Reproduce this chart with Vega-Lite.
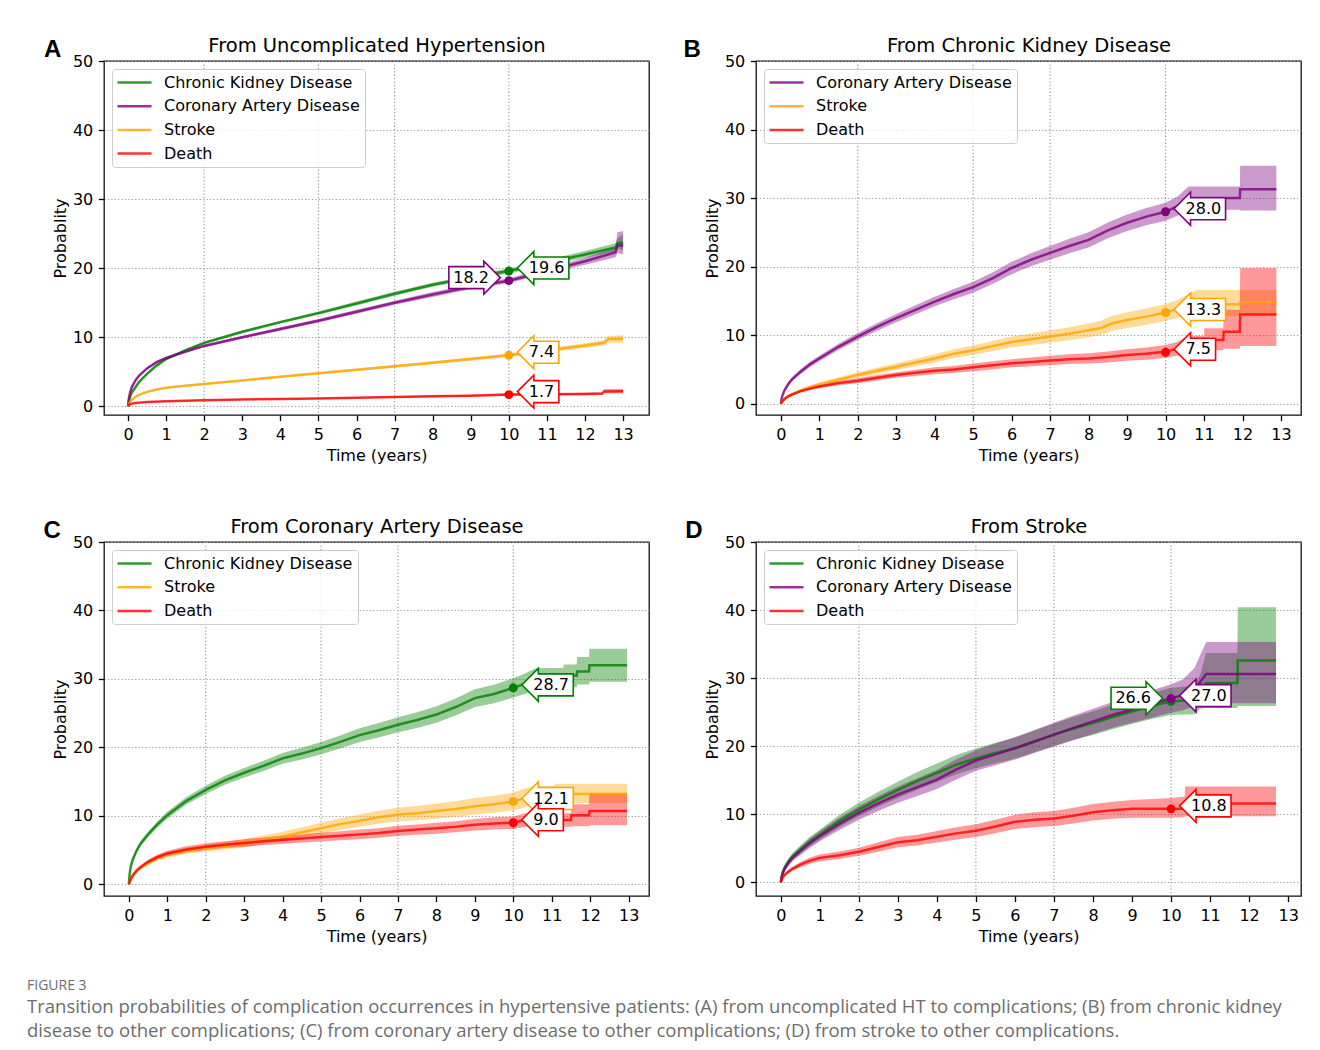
{
"$schema": "https://vega.github.io/schema/vega-lite/v6.json",
"background": "white",
"padding": {"left": 27, "top": 34, "right": 10, "bottom": 8},
"columns": 2,
"spacing": {"row": 127, "column": 107},
"bounds": "flush",
"resolve": {"scale": {"color": "independent", "fill": "independent", "stroke": "independent"}, "legend": {"color": "independent", "fill": "independent", "stroke": "independent"}},
"title": {"text": "FIGURE 3", "subtitle": ["Transition probabilities of complication occurrences in hypertensive patients: (A) from uncomplicated HT to complications; (B) from chronic kidney", "disease to other complications; (C) from coronary artery disease to other complications; (D) from stroke to other complications."], "orient": "bottom", "anchor": "start", "frame": "group", "dx": -77, "offset": 34, "font": "Open Sans", "fontSize": 14, "fontWeight": "normal", "color": "#6d6d6d", "subtitleFont": "Open Sans", "subtitleFontSize": 18.5, "subtitleColor": "#6d6d6d", "subtitleLineHeight": 24, "subtitlePadding": 5},
"config": {
  "font": "DejaVu Sans",
  "view": {"stroke": "#111111", "strokeWidth": 1.3},
  "axis": {"labelFont": "DejaVu Sans", "labelFontSize": 16, "labelColor": "#000000", "titleFont": "DejaVu Sans", "titleFontSize": 16, "titleFontWeight": "normal", "titleColor": "#000000", "tickColor": "#000000", "tickWidth": 1.3, "tickSize": 5.6, "labelPadding": 5.6, "domain": false, "gridColor": "#a0a0a0", "gridDash": [1.3, 2.1], "gridWidth": 1.2, "gridOpacity": 1}
},
"datasets": {
"A": [
{"s":"Chronic Kidney Disease","t":0,"v":0,"lo":0,"hi":0},
{"s":"Chronic Kidney Disease","t":0.02,"v":0.6,"lo":0.5,"hi":0.7},
{"s":"Chronic Kidney Disease","t":0.05,"v":1.3,"lo":1.2,"hi":1.4},
{"s":"Chronic Kidney Disease","t":0.1,"v":2.0,"lo":1.85,"hi":2.15},
{"s":"Chronic Kidney Disease","t":0.2,"v":2.8,"lo":2.65,"hi":2.95},
{"s":"Chronic Kidney Disease","t":0.3,"v":3.6,"lo":3.45,"hi":3.75},
{"s":"Chronic Kidney Disease","t":0.5,"v":4.7,"lo":4.55,"hi":4.85},
{"s":"Chronic Kidney Disease","t":0.75,"v":5.9,"lo":5.75,"hi":6.05},
{"s":"Chronic Kidney Disease","t":1,"v":6.85,"lo":6.7,"hi":7.0},
{"s":"Chronic Kidney Disease","t":1.5,"v":8.1,"lo":7.95,"hi":8.25},
{"s":"Chronic Kidney Disease","t":2,"v":9.2,"lo":9.0,"hi":9.4},
{"s":"Chronic Kidney Disease","t":3,"v":10.8,"lo":10.6,"hi":11.0},
{"s":"Chronic Kidney Disease","t":4,"v":12.2,"lo":12.0,"hi":12.4},
{"s":"Chronic Kidney Disease","t":5,"v":13.5,"lo":13.25,"hi":13.75},
{"s":"Chronic Kidney Disease","t":6,"v":14.9,"lo":14.6,"hi":15.2},
{"s":"Chronic Kidney Disease","t":7,"v":16.3,"lo":16.0,"hi":16.6},
{"s":"Chronic Kidney Disease","t":8,"v":17.6,"lo":17.3,"hi":17.9},
{"s":"Chronic Kidney Disease","t":9,"v":18.7,"lo":18.4,"hi":19.0},
{"s":"Chronic Kidney Disease","t":10,"v":19.6,"lo":19.25,"hi":19.95},
{"s":"Chronic Kidney Disease","t":11,"v":20.8,"lo":20.4,"hi":21.2},
{"s":"Chronic Kidney Disease","t":12,"v":22.0,"lo":21.5,"hi":22.5},
{"s":"Chronic Kidney Disease","t":12.8,"v":23.0,"lo":22.4,"hi":23.6},
{"s":"Chronic Kidney Disease","t":12.85,"v":23.6,"lo":22.9,"hi":24.3},
{"s":"Chronic Kidney Disease","t":13.0,"v":23.7,"lo":22.6,"hi":24.9},
{"s":"Coronary Artery Disease","t":0,"v":0,"lo":0,"hi":0},
{"s":"Coronary Artery Disease","t":0.02,"v":1.0,"lo":0.9,"hi":1.1},
{"s":"Coronary Artery Disease","t":0.05,"v":1.9,"lo":1.75,"hi":2.05},
{"s":"Coronary Artery Disease","t":0.1,"v":2.8,"lo":2.65,"hi":2.95},
{"s":"Coronary Artery Disease","t":0.2,"v":3.8,"lo":3.65,"hi":3.95},
{"s":"Coronary Artery Disease","t":0.3,"v":4.5,"lo":4.35,"hi":4.65},
{"s":"Coronary Artery Disease","t":0.5,"v":5.5,"lo":5.35,"hi":5.65},
{"s":"Coronary Artery Disease","t":0.75,"v":6.4,"lo":6.25,"hi":6.55},
{"s":"Coronary Artery Disease","t":1,"v":7.0,"lo":6.85,"hi":7.15},
{"s":"Coronary Artery Disease","t":1.5,"v":7.9,"lo":7.75,"hi":8.05},
{"s":"Coronary Artery Disease","t":2,"v":8.75,"lo":8.55,"hi":8.95},
{"s":"Coronary Artery Disease","t":3,"v":10.0,"lo":9.8,"hi":10.2},
{"s":"Coronary Artery Disease","t":4,"v":11.2,"lo":10.95,"hi":11.45},
{"s":"Coronary Artery Disease","t":5,"v":12.4,"lo":12.15,"hi":12.65},
{"s":"Coronary Artery Disease","t":6,"v":13.7,"lo":13.4,"hi":14.0},
{"s":"Coronary Artery Disease","t":7,"v":15.0,"lo":14.7,"hi":15.3},
{"s":"Coronary Artery Disease","t":8,"v":16.2,"lo":15.85,"hi":16.55},
{"s":"Coronary Artery Disease","t":9,"v":17.3,"lo":16.95,"hi":17.65},
{"s":"Coronary Artery Disease","t":10,"v":18.2,"lo":17.85,"hi":18.55},
{"s":"Coronary Artery Disease","t":11,"v":19.6,"lo":19.2,"hi":20.0},
{"s":"Coronary Artery Disease","t":12,"v":21.0,"lo":20.5,"hi":21.5},
{"s":"Coronary Artery Disease","t":12.8,"v":22.3,"lo":21.6,"hi":23.0},
{"s":"Coronary Artery Disease","t":12.85,"v":23.3,"lo":22.2,"hi":25.2},
{"s":"Coronary Artery Disease","t":13.0,"v":23.3,"lo":22.0,"hi":25.4},
{"s":"Stroke","t":0,"v":0,"lo":0,"hi":0},
{"s":"Stroke","t":0.05,"v":0.6,"lo":0.55,"hi":0.65},
{"s":"Stroke","t":0.1,"v":0.95,"lo":0.88,"hi":1.02},
{"s":"Stroke","t":0.2,"v":1.4,"lo":1.32,"hi":1.48},
{"s":"Stroke","t":0.3,"v":1.7,"lo":1.62,"hi":1.78},
{"s":"Stroke","t":0.5,"v":2.1,"lo":2.0,"hi":2.2},
{"s":"Stroke","t":0.75,"v":2.45,"lo":2.35,"hi":2.55},
{"s":"Stroke","t":1,"v":2.7,"lo":2.6,"hi":2.8},
{"s":"Stroke","t":1.5,"v":3.0,"lo":2.9,"hi":3.1},
{"s":"Stroke","t":2,"v":3.25,"lo":3.13,"hi":3.37},
{"s":"Stroke","t":3,"v":3.75,"lo":3.6,"hi":3.9},
{"s":"Stroke","t":4,"v":4.3,"lo":4.15,"hi":4.45},
{"s":"Stroke","t":5,"v":4.8,"lo":4.63,"hi":4.97},
{"s":"Stroke","t":6,"v":5.3,"lo":5.1,"hi":5.5},
{"s":"Stroke","t":7,"v":5.8,"lo":5.6,"hi":6.0},
{"s":"Stroke","t":8,"v":6.3,"lo":6.08,"hi":6.52},
{"s":"Stroke","t":9,"v":6.85,"lo":6.6,"hi":7.1},
{"s":"Stroke","t":10,"v":7.4,"lo":7.13,"hi":7.67},
{"s":"Stroke","t":11,"v":8.1,"lo":7.8,"hi":8.4},
{"s":"Stroke","t":12,"v":8.8,"lo":8.45,"hi":9.15},
{"s":"Stroke","t":12.5,"v":9.2,"lo":8.8,"hi":9.6},
{"s":"Stroke","t":12.6,"v":9.7,"lo":9.2,"hi":10.2},
{"s":"Stroke","t":13.0,"v":9.8,"lo":9.2,"hi":10.3},
{"s":"Death","t":0,"v":0,"lo":0,"hi":0},
{"s":"Death","t":0.05,"v":0.3,"lo":0.25,"hi":0.35},
{"s":"Death","t":0.1,"v":0.4,"lo":0.35,"hi":0.45},
{"s":"Death","t":0.2,"v":0.5,"lo":0.44,"hi":0.56},
{"s":"Death","t":0.5,"v":0.62,"lo":0.55,"hi":0.69},
{"s":"Death","t":1,"v":0.75,"lo":0.68,"hi":0.82},
{"s":"Death","t":2,"v":0.9,"lo":0.82,"hi":0.98},
{"s":"Death","t":3,"v":1.0,"lo":0.92,"hi":1.08},
{"s":"Death","t":4,"v":1.08,"lo":1.0,"hi":1.16},
{"s":"Death","t":5,"v":1.15,"lo":1.06,"hi":1.24},
{"s":"Death","t":6,"v":1.25,"lo":1.15,"hi":1.35},
{"s":"Death","t":7,"v":1.35,"lo":1.24,"hi":1.46},
{"s":"Death","t":8,"v":1.45,"lo":1.33,"hi":1.57},
{"s":"Death","t":9,"v":1.55,"lo":1.42,"hi":1.68},
{"s":"Death","t":10,"v":1.7,"lo":1.55,"hi":1.85},
{"s":"Death","t":11,"v":1.75,"lo":1.6,"hi":1.9},
{"s":"Death","t":12,"v":1.8,"lo":1.64,"hi":1.96},
{"s":"Death","t":12.45,"v":1.85,"lo":1.68,"hi":2.02},
{"s":"Death","t":12.5,"v":2.15,"lo":1.9,"hi":2.5},
{"s":"Death","t":13.0,"v":2.2,"lo":1.9,"hi":2.55}
],
"B": [
{"s":"Coronary Artery Disease","t":0,"v":0,"lo":0,"hi":0},
{"s":"Coronary Artery Disease","t":0.02,"v":0.7,"lo":0.6,"hi":0.8},
{"s":"Coronary Artery Disease","t":0.05,"v":1.3,"lo":1.15,"hi":1.45},
{"s":"Coronary Artery Disease","t":0.1,"v":2.0,"lo":1.8,"hi":2.2},
{"s":"Coronary Artery Disease","t":0.2,"v":2.9,"lo":2.65,"hi":3.15},
{"s":"Coronary Artery Disease","t":0.3,"v":3.6,"lo":3.3,"hi":3.9},
{"s":"Coronary Artery Disease","t":0.5,"v":4.6,"lo":4.25,"hi":4.95},
{"s":"Coronary Artery Disease","t":0.75,"v":5.7,"lo":5.3,"hi":6.1},
{"s":"Coronary Artery Disease","t":1,"v":6.6,"lo":6.2,"hi":7.0},
{"s":"Coronary Artery Disease","t":1.5,"v":8.3,"lo":7.85,"hi":8.75},
{"s":"Coronary Artery Disease","t":2,"v":9.8,"lo":9.3,"hi":10.3},
{"s":"Coronary Artery Disease","t":2.5,"v":11.2,"lo":10.65,"hi":11.75},
{"s":"Coronary Artery Disease","t":3,"v":12.5,"lo":11.9,"hi":13.1},
{"s":"Coronary Artery Disease","t":3.5,"v":13.7,"lo":13.05,"hi":14.35},
{"s":"Coronary Artery Disease","t":4,"v":14.9,"lo":14.2,"hi":15.6},
{"s":"Coronary Artery Disease","t":4.5,"v":16.0,"lo":15.25,"hi":16.75},
{"s":"Coronary Artery Disease","t":5,"v":17.0,"lo":16.2,"hi":17.8},
{"s":"Coronary Artery Disease","t":5.5,"v":18.3,"lo":17.45,"hi":19.15},
{"s":"Coronary Artery Disease","t":6,"v":19.8,"lo":18.9,"hi":20.7},
{"s":"Coronary Artery Disease","t":6.5,"v":21.0,"lo":20.05,"hi":21.95},
{"s":"Coronary Artery Disease","t":7,"v":22.0,"lo":21.0,"hi":23.0},
{"s":"Coronary Artery Disease","t":7.5,"v":23.0,"lo":21.95,"hi":24.05},
{"s":"Coronary Artery Disease","t":8,"v":23.9,"lo":22.8,"hi":25.0},
{"s":"Coronary Artery Disease","t":8.5,"v":25.3,"lo":24.15,"hi":26.45},
{"s":"Coronary Artery Disease","t":9,"v":26.4,"lo":25.2,"hi":27.6},
{"s":"Coronary Artery Disease","t":9.5,"v":27.3,"lo":26.05,"hi":28.55},
{"s":"Coronary Artery Disease","t":10,"v":28.0,"lo":26.7,"hi":29.3},
{"s":"Coronary Artery Disease","t":10.3,"v":28.8,"lo":27.4,"hi":30.2},
{"s":"Coronary Artery Disease","t":10.6,"v":30.0,"lo":28.3,"hi":31.7},
{"s":"Coronary Artery Disease","t":11.93,"v":30.0,"lo":28.3,"hi":31.7},
{"s":"Coronary Artery Disease","t":11.94,"v":31.3,"lo":28.2,"hi":34.7},
{"s":"Coronary Artery Disease","t":12.88,"v":31.3,"lo":28.2,"hi":34.7},
{"s":"Stroke","t":0,"v":0,"lo":0,"hi":0},
{"s":"Stroke","t":0.05,"v":0.4,"lo":0.33,"hi":0.47},
{"s":"Stroke","t":0.1,"v":0.7,"lo":0.6,"hi":0.8},
{"s":"Stroke","t":0.2,"v":1.1,"lo":0.97,"hi":1.23},
{"s":"Stroke","t":0.3,"v":1.4,"lo":1.25,"hi":1.55},
{"s":"Stroke","t":0.5,"v":1.9,"lo":1.7,"hi":2.1},
{"s":"Stroke","t":0.75,"v":2.4,"lo":2.15,"hi":2.65},
{"s":"Stroke","t":1,"v":2.8,"lo":2.5,"hi":3.1},
{"s":"Stroke","t":1.5,"v":3.5,"lo":3.15,"hi":3.85},
{"s":"Stroke","t":2,"v":4.2,"lo":3.8,"hi":4.6},
{"s":"Stroke","t":2.5,"v":4.8,"lo":4.35,"hi":5.25},
{"s":"Stroke","t":3,"v":5.4,"lo":4.9,"hi":5.9},
{"s":"Stroke","t":3.5,"v":6.0,"lo":5.45,"hi":6.55},
{"s":"Stroke","t":4,"v":6.6,"lo":6.0,"hi":7.2},
{"s":"Stroke","t":4.5,"v":7.3,"lo":6.65,"hi":7.95},
{"s":"Stroke","t":5,"v":7.8,"lo":7.1,"hi":8.5},
{"s":"Stroke","t":5.5,"v":8.4,"lo":7.65,"hi":9.15},
{"s":"Stroke","t":6,"v":9.0,"lo":8.2,"hi":9.8},
{"s":"Stroke","t":6.5,"v":9.4,"lo":8.55,"hi":10.25},
{"s":"Stroke","t":7,"v":9.8,"lo":8.9,"hi":10.7},
{"s":"Stroke","t":7.5,"v":10.2,"lo":9.25,"hi":11.15},
{"s":"Stroke","t":8,"v":10.7,"lo":9.7,"hi":11.7},
{"s":"Stroke","t":8.3,"v":11.0,"lo":9.95,"hi":12.05},
{"s":"Stroke","t":8.6,"v":11.7,"lo":10.6,"hi":12.8},
{"s":"Stroke","t":9,"v":12.2,"lo":11.05,"hi":13.35},
{"s":"Stroke","t":9.5,"v":12.7,"lo":11.5,"hi":13.9},
{"s":"Stroke","t":10,"v":13.3,"lo":12.05,"hi":14.55},
{"s":"Stroke","t":10.3,"v":13.8,"lo":12.5,"hi":15.1},
{"s":"Stroke","t":10.6,"v":14.5,"lo":13.0,"hi":16.0},
{"s":"Stroke","t":10.8,"v":14.5,"lo":12.8,"hi":16.6},
{"s":"Stroke","t":11.93,"v":14.5,"lo":12.8,"hi":16.6},
{"s":"Stroke","t":11.94,"v":14.8,"lo":13.0,"hi":16.6},
{"s":"Stroke","t":12.88,"v":14.8,"lo":13.0,"hi":16.6},
{"s":"Death","t":0,"v":0,"lo":0,"hi":0},
{"s":"Death","t":0.05,"v":0.4,"lo":0.33,"hi":0.47},
{"s":"Death","t":0.1,"v":0.7,"lo":0.6,"hi":0.8},
{"s":"Death","t":0.2,"v":1.1,"lo":0.97,"hi":1.23},
{"s":"Death","t":0.3,"v":1.35,"lo":1.2,"hi":1.5},
{"s":"Death","t":0.5,"v":1.8,"lo":1.6,"hi":2.0},
{"s":"Death","t":0.75,"v":2.2,"lo":1.97,"hi":2.43},
{"s":"Death","t":1,"v":2.5,"lo":2.25,"hi":2.75},
{"s":"Death","t":1.5,"v":3.0,"lo":2.7,"hi":3.3},
{"s":"Death","t":2,"v":3.35,"lo":3.0,"hi":3.7},
{"s":"Death","t":2.5,"v":3.8,"lo":3.4,"hi":4.2},
{"s":"Death","t":3,"v":4.2,"lo":3.8,"hi":4.6},
{"s":"Death","t":3.5,"v":4.5,"lo":4.05,"hi":4.95},
{"s":"Death","t":4,"v":4.8,"lo":4.3,"hi":5.3},
{"s":"Death","t":4.5,"v":5.0,"lo":4.5,"hi":5.5},
{"s":"Death","t":5,"v":5.3,"lo":4.75,"hi":5.85},
{"s":"Death","t":5.5,"v":5.6,"lo":5.0,"hi":6.2},
{"s":"Death","t":6,"v":5.9,"lo":5.3,"hi":6.5},
{"s":"Death","t":6.5,"v":6.1,"lo":5.45,"hi":6.75},
{"s":"Death","t":7,"v":6.3,"lo":5.6,"hi":7.0},
{"s":"Death","t":7.5,"v":6.5,"lo":5.8,"hi":7.2},
{"s":"Death","t":8,"v":6.6,"lo":5.85,"hi":7.35},
{"s":"Death","t":8.5,"v":6.8,"lo":6.0,"hi":7.6},
{"s":"Death","t":9,"v":7.1,"lo":6.25,"hi":7.95},
{"s":"Death","t":9.5,"v":7.3,"lo":6.4,"hi":8.2},
{"s":"Death","t":10,"v":7.6,"lo":6.65,"hi":8.55},
{"s":"Death","t":10.3,"v":8.0,"lo":7.0,"hi":9.0},
{"s":"Death","t":10.6,"v":8.6,"lo":7.3,"hi":9.9},
{"s":"Death","t":11.0,"v":8.6,"lo":7.3,"hi":9.9},
{"s":"Death","t":11.01,"v":9.3,"lo":7.8,"hi":11.0},
{"s":"Death","t":11.5,"v":9.3,"lo":7.8,"hi":11.0},
{"s":"Death","t":11.51,"v":10.5,"lo":8.0,"hi":13.7},
{"s":"Death","t":11.93,"v":10.5,"lo":8.0,"hi":13.7},
{"s":"Death","t":11.94,"v":13.0,"lo":8.4,"hi":19.8},
{"s":"Death","t":12.88,"v":13.0,"lo":8.4,"hi":19.8}
],
"C": [
{"s":"Chronic Kidney Disease","t":0,"v":0,"lo":0,"hi":0},
{"s":"Chronic Kidney Disease","t":0.02,"v":1.5,"lo":1.35,"hi":1.65},
{"s":"Chronic Kidney Disease","t":0.05,"v":2.6,"lo":2.4,"hi":2.8},
{"s":"Chronic Kidney Disease","t":0.1,"v":3.6,"lo":3.35,"hi":3.85},
{"s":"Chronic Kidney Disease","t":0.2,"v":4.9,"lo":4.6,"hi":5.2},
{"s":"Chronic Kidney Disease","t":0.3,"v":5.9,"lo":5.55,"hi":6.25},
{"s":"Chronic Kidney Disease","t":0.5,"v":7.3,"lo":6.9,"hi":7.7},
{"s":"Chronic Kidney Disease","t":0.75,"v":8.8,"lo":8.35,"hi":9.25},
{"s":"Chronic Kidney Disease","t":1,"v":10.1,"lo":9.6,"hi":10.6},
{"s":"Chronic Kidney Disease","t":1.5,"v":12.2,"lo":11.65,"hi":12.75},
{"s":"Chronic Kidney Disease","t":2,"v":13.8,"lo":13.2,"hi":14.4},
{"s":"Chronic Kidney Disease","t":2.5,"v":15.2,"lo":14.55,"hi":15.85},
{"s":"Chronic Kidney Disease","t":3,"v":16.3,"lo":15.6,"hi":17.0},
{"s":"Chronic Kidney Disease","t":3.5,"v":17.3,"lo":16.55,"hi":18.05},
{"s":"Chronic Kidney Disease","t":4,"v":18.4,"lo":17.6,"hi":19.2},
{"s":"Chronic Kidney Disease","t":4.5,"v":19.1,"lo":18.25,"hi":19.95},
{"s":"Chronic Kidney Disease","t":5,"v":19.9,"lo":19.0,"hi":20.8},
{"s":"Chronic Kidney Disease","t":5.5,"v":20.8,"lo":19.85,"hi":21.75},
{"s":"Chronic Kidney Disease","t":6,"v":21.8,"lo":20.8,"hi":22.8},
{"s":"Chronic Kidney Disease","t":6.5,"v":22.5,"lo":21.45,"hi":23.55},
{"s":"Chronic Kidney Disease","t":7,"v":23.3,"lo":22.2,"hi":24.4},
{"s":"Chronic Kidney Disease","t":7.5,"v":24.0,"lo":22.85,"hi":25.15},
{"s":"Chronic Kidney Disease","t":8,"v":24.8,"lo":23.6,"hi":26.0},
{"s":"Chronic Kidney Disease","t":8.5,"v":25.9,"lo":24.65,"hi":27.15},
{"s":"Chronic Kidney Disease","t":9,"v":27.2,"lo":25.9,"hi":28.5},
{"s":"Chronic Kidney Disease","t":9.5,"v":27.8,"lo":26.45,"hi":29.15},
{"s":"Chronic Kidney Disease","t":10,"v":28.7,"lo":27.3,"hi":30.1},
{"s":"Chronic Kidney Disease","t":10.3,"v":29.3,"lo":27.8,"hi":30.8},
{"s":"Chronic Kidney Disease","t":10.6,"v":30.0,"lo":28.4,"hi":31.6},
{"s":"Chronic Kidney Disease","t":11.3,"v":30.0,"lo":28.4,"hi":31.6},
{"s":"Chronic Kidney Disease","t":11.31,"v":30.5,"lo":28.8,"hi":32.1},
{"s":"Chronic Kidney Disease","t":11.65,"v":30.5,"lo":28.8,"hi":32.1},
{"s":"Chronic Kidney Disease","t":11.66,"v":31.1,"lo":29.2,"hi":33.2},
{"s":"Chronic Kidney Disease","t":11.97,"v":31.1,"lo":29.2,"hi":33.2},
{"s":"Chronic Kidney Disease","t":11.98,"v":32.0,"lo":29.6,"hi":34.4},
{"s":"Chronic Kidney Disease","t":12.96,"v":32.0,"lo":29.6,"hi":34.4},
{"s":"Stroke","t":0,"v":0,"lo":0,"hi":0},
{"s":"Stroke","t":0.05,"v":0.7,"lo":0.6,"hi":0.8},
{"s":"Stroke","t":0.1,"v":1.2,"lo":1.05,"hi":1.35},
{"s":"Stroke","t":0.2,"v":1.9,"lo":1.7,"hi":2.1},
{"s":"Stroke","t":0.3,"v":2.4,"lo":2.15,"hi":2.65},
{"s":"Stroke","t":0.5,"v":3.1,"lo":2.8,"hi":3.4},
{"s":"Stroke","t":0.75,"v":3.8,"lo":3.45,"hi":4.15},
{"s":"Stroke","t":1,"v":4.3,"lo":3.9,"hi":4.7},
{"s":"Stroke","t":1.5,"v":4.9,"lo":4.45,"hi":5.35},
{"s":"Stroke","t":2,"v":5.3,"lo":4.8,"hi":5.8},
{"s":"Stroke","t":2.5,"v":5.65,"lo":5.1,"hi":6.2},
{"s":"Stroke","t":3,"v":6.0,"lo":5.4,"hi":6.6},
{"s":"Stroke","t":3.5,"v":6.5,"lo":5.85,"hi":7.15},
{"s":"Stroke","t":4,"v":7.0,"lo":6.3,"hi":7.7},
{"s":"Stroke","t":4.5,"v":7.6,"lo":6.85,"hi":8.35},
{"s":"Stroke","t":5,"v":8.2,"lo":7.4,"hi":9.0},
{"s":"Stroke","t":5.5,"v":8.8,"lo":7.95,"hi":9.65},
{"s":"Stroke","t":6,"v":9.3,"lo":8.4,"hi":10.2},
{"s":"Stroke","t":6.5,"v":9.8,"lo":8.85,"hi":10.75},
{"s":"Stroke","t":7,"v":10.2,"lo":9.2,"hi":11.2},
{"s":"Stroke","t":7.5,"v":10.4,"lo":9.35,"hi":11.45},
{"s":"Stroke","t":8,"v":10.7,"lo":9.6,"hi":11.8},
{"s":"Stroke","t":8.5,"v":11.0,"lo":9.85,"hi":12.15},
{"s":"Stroke","t":9,"v":11.4,"lo":10.2,"hi":12.6},
{"s":"Stroke","t":9.5,"v":11.7,"lo":10.45,"hi":12.95},
{"s":"Stroke","t":10,"v":12.1,"lo":10.8,"hi":13.4},
{"s":"Stroke","t":10.3,"v":12.6,"lo":11.2,"hi":14.0},
{"s":"Stroke","t":10.6,"v":13.2,"lo":11.9,"hi":14.4},
{"s":"Stroke","t":11.08,"v":13.2,"lo":11.9,"hi":14.4},
{"s":"Stroke","t":11.09,"v":13.2,"lo":11.9,"hi":14.7},
{"s":"Stroke","t":12.96,"v":13.2,"lo":11.9,"hi":14.7},
{"s":"Death","t":0,"v":0,"lo":0,"hi":0},
{"s":"Death","t":0.05,"v":0.8,"lo":0.7,"hi":0.9},
{"s":"Death","t":0.1,"v":1.3,"lo":1.15,"hi":1.45},
{"s":"Death","t":0.2,"v":2.0,"lo":1.8,"hi":2.2},
{"s":"Death","t":0.3,"v":2.5,"lo":2.25,"hi":2.75},
{"s":"Death","t":0.5,"v":3.3,"lo":3.0,"hi":3.6},
{"s":"Death","t":0.75,"v":4.0,"lo":3.65,"hi":4.35},
{"s":"Death","t":1,"v":4.5,"lo":4.1,"hi":4.9},
{"s":"Death","t":1.5,"v":5.1,"lo":4.65,"hi":5.55},
{"s":"Death","t":2,"v":5.5,"lo":5.0,"hi":6.0},
{"s":"Death","t":2.5,"v":5.8,"lo":5.3,"hi":6.3},
{"s":"Death","t":3,"v":6.05,"lo":5.5,"hi":6.6},
{"s":"Death","t":3.5,"v":6.3,"lo":5.75,"hi":6.85},
{"s":"Death","t":4,"v":6.5,"lo":5.9,"hi":7.1},
{"s":"Death","t":4.5,"v":6.7,"lo":6.1,"hi":7.3},
{"s":"Death","t":5,"v":6.9,"lo":6.25,"hi":7.55},
{"s":"Death","t":5.5,"v":7.1,"lo":6.45,"hi":7.75},
{"s":"Death","t":6,"v":7.3,"lo":6.6,"hi":8.0},
{"s":"Death","t":6.5,"v":7.5,"lo":6.8,"hi":8.2},
{"s":"Death","t":7,"v":7.8,"lo":7.05,"hi":8.55},
{"s":"Death","t":7.5,"v":8.0,"lo":7.25,"hi":8.75},
{"s":"Death","t":8,"v":8.2,"lo":7.4,"hi":9.0},
{"s":"Death","t":8.5,"v":8.4,"lo":7.6,"hi":9.2},
{"s":"Death","t":9,"v":8.7,"lo":7.85,"hi":9.55},
{"s":"Death","t":9.5,"v":8.9,"lo":8.0,"hi":9.8},
{"s":"Death","t":10,"v":9.0,"lo":8.1,"hi":9.9},
{"s":"Death","t":10.3,"v":9.4,"lo":8.4,"hi":10.4},
{"s":"Death","t":11.5,"v":9.4,"lo":8.4,"hi":10.4},
{"s":"Death","t":11.51,"v":10.1,"lo":8.5,"hi":11.7},
{"s":"Death","t":11.97,"v":10.1,"lo":8.5,"hi":11.7},
{"s":"Death","t":11.98,"v":10.7,"lo":8.65,"hi":13.3},
{"s":"Death","t":12.96,"v":10.7,"lo":8.65,"hi":13.3}
],
"D": [
{"s":"Chronic Kidney Disease","t":0,"v":0,"lo":0,"hi":0},
{"s":"Chronic Kidney Disease","t":0.02,"v":0.8,"lo":0.6,"hi":1.0},
{"s":"Chronic Kidney Disease","t":0.05,"v":1.5,"lo":1.2,"hi":1.8},
{"s":"Chronic Kidney Disease","t":0.1,"v":2.2,"lo":1.85,"hi":2.55},
{"s":"Chronic Kidney Disease","t":0.2,"v":3.1,"lo":2.65,"hi":3.55},
{"s":"Chronic Kidney Disease","t":0.3,"v":3.8,"lo":3.3,"hi":4.3},
{"s":"Chronic Kidney Disease","t":0.5,"v":4.8,"lo":4.2,"hi":5.4},
{"s":"Chronic Kidney Disease","t":0.75,"v":6.0,"lo":5.3,"hi":6.7},
{"s":"Chronic Kidney Disease","t":1,"v":7.0,"lo":6.25,"hi":7.75},
{"s":"Chronic Kidney Disease","t":1.5,"v":9.0,"lo":8.1,"hi":9.9},
{"s":"Chronic Kidney Disease","t":2,"v":10.7,"lo":9.7,"hi":11.7},
{"s":"Chronic Kidney Disease","t":2.5,"v":12.2,"lo":11.1,"hi":13.3},
{"s":"Chronic Kidney Disease","t":3,"v":13.6,"lo":12.4,"hi":14.8},
{"s":"Chronic Kidney Disease","t":3.5,"v":14.9,"lo":13.6,"hi":16.2},
{"s":"Chronic Kidney Disease","t":4,"v":16.1,"lo":14.75,"hi":17.45},
{"s":"Chronic Kidney Disease","t":4.5,"v":17.3,"lo":15.9,"hi":18.7},
{"s":"Chronic Kidney Disease","t":5,"v":18.2,"lo":16.75,"hi":19.65},
{"s":"Chronic Kidney Disease","t":5.5,"v":19.0,"lo":17.5,"hi":20.5},
{"s":"Chronic Kidney Disease","t":6,"v":19.7,"lo":18.15,"hi":21.25},
{"s":"Chronic Kidney Disease","t":6.5,"v":20.7,"lo":19.1,"hi":22.3},
{"s":"Chronic Kidney Disease","t":7,"v":21.7,"lo":20.05,"hi":23.35},
{"s":"Chronic Kidney Disease","t":7.5,"v":22.6,"lo":20.9,"hi":24.3},
{"s":"Chronic Kidney Disease","t":8,"v":23.4,"lo":21.65,"hi":25.15},
{"s":"Chronic Kidney Disease","t":8.5,"v":24.3,"lo":22.5,"hi":26.1},
{"s":"Chronic Kidney Disease","t":9,"v":25.1,"lo":23.25,"hi":26.95},
{"s":"Chronic Kidney Disease","t":9.5,"v":25.9,"lo":24.0,"hi":27.8},
{"s":"Chronic Kidney Disease","t":10,"v":26.6,"lo":24.6,"hi":28.6},
{"s":"Chronic Kidney Disease","t":10.6,"v":26.8,"lo":24.7,"hi":28.9},
{"s":"Chronic Kidney Disease","t":10.75,"v":28.0,"lo":25.5,"hi":30.5},
{"s":"Chronic Kidney Disease","t":10.9,"v":29.3,"lo":25.6,"hi":33.7},
{"s":"Chronic Kidney Disease","t":11.7,"v":29.3,"lo":25.6,"hi":33.7},
{"s":"Chronic Kidney Disease","t":11.71,"v":32.6,"lo":25.9,"hi":40.4},
{"s":"Chronic Kidney Disease","t":12.69,"v":32.6,"lo":25.9,"hi":40.4},
{"s":"Coronary Artery Disease","t":0,"v":0,"lo":0,"hi":0},
{"s":"Coronary Artery Disease","t":0.02,"v":0.7,"lo":0.5,"hi":0.9},
{"s":"Coronary Artery Disease","t":0.05,"v":1.3,"lo":1.0,"hi":1.6},
{"s":"Coronary Artery Disease","t":0.1,"v":2.0,"lo":1.65,"hi":2.35},
{"s":"Coronary Artery Disease","t":0.2,"v":2.9,"lo":2.45,"hi":3.35},
{"s":"Coronary Artery Disease","t":0.3,"v":3.6,"lo":3.1,"hi":4.1},
{"s":"Coronary Artery Disease","t":0.5,"v":4.6,"lo":4.0,"hi":5.2},
{"s":"Coronary Artery Disease","t":0.75,"v":5.8,"lo":5.1,"hi":6.5},
{"s":"Coronary Artery Disease","t":1,"v":6.8,"lo":6.05,"hi":7.55},
{"s":"Coronary Artery Disease","t":1.5,"v":8.6,"lo":7.7,"hi":9.5},
{"s":"Coronary Artery Disease","t":2,"v":10.2,"lo":9.2,"hi":11.2},
{"s":"Coronary Artery Disease","t":2.5,"v":11.6,"lo":10.5,"hi":12.7},
{"s":"Coronary Artery Disease","t":3,"v":12.9,"lo":11.7,"hi":14.1},
{"s":"Coronary Artery Disease","t":3.5,"v":14.0,"lo":12.7,"hi":15.3},
{"s":"Coronary Artery Disease","t":4,"v":15.1,"lo":13.7,"hi":16.5},
{"s":"Coronary Artery Disease","t":4.5,"v":16.6,"lo":15.1,"hi":18.1},
{"s":"Coronary Artery Disease","t":5,"v":17.9,"lo":16.4,"hi":19.4},
{"s":"Coronary Artery Disease","t":5.5,"v":18.8,"lo":17.2,"hi":20.4},
{"s":"Coronary Artery Disease","t":6,"v":19.7,"lo":18.05,"hi":21.35},
{"s":"Coronary Artery Disease","t":6.5,"v":20.7,"lo":19.0,"hi":22.4},
{"s":"Coronary Artery Disease","t":7,"v":21.7,"lo":19.95,"hi":23.45},
{"s":"Coronary Artery Disease","t":7.5,"v":22.7,"lo":20.9,"hi":24.5},
{"s":"Coronary Artery Disease","t":8,"v":23.65,"lo":21.8,"hi":25.5},
{"s":"Coronary Artery Disease","t":8.5,"v":24.6,"lo":22.7,"hi":26.5},
{"s":"Coronary Artery Disease","t":9,"v":25.4,"lo":23.45,"hi":27.35},
{"s":"Coronary Artery Disease","t":9.5,"v":26.2,"lo":24.2,"hi":28.2},
{"s":"Coronary Artery Disease","t":10,"v":27.0,"lo":24.9,"hi":29.1},
{"s":"Coronary Artery Disease","t":10.3,"v":27.5,"lo":25.3,"hi":29.8},
{"s":"Coronary Artery Disease","t":10.6,"v":28.3,"lo":25.9,"hi":31.5},
{"s":"Coronary Artery Disease","t":10.9,"v":30.6,"lo":26.3,"hi":35.3},
{"s":"Coronary Artery Disease","t":12.69,"v":30.6,"lo":26.3,"hi":35.3},
{"s":"Death","t":0,"v":0,"lo":0,"hi":0},
{"s":"Death","t":0.05,"v":0.7,"lo":0.55,"hi":0.85},
{"s":"Death","t":0.1,"v":1.1,"lo":0.9,"hi":1.3},
{"s":"Death","t":0.2,"v":1.6,"lo":1.35,"hi":1.85},
{"s":"Death","t":0.3,"v":2.0,"lo":1.7,"hi":2.3},
{"s":"Death","t":0.5,"v":2.6,"lo":2.2,"hi":3.0},
{"s":"Death","t":0.75,"v":3.2,"lo":2.75,"hi":3.65},
{"s":"Death","t":1,"v":3.6,"lo":3.1,"hi":4.1},
{"s":"Death","t":1.5,"v":4.0,"lo":3.45,"hi":4.55},
{"s":"Death","t":2,"v":4.5,"lo":3.9,"hi":5.1},
{"s":"Death","t":2.5,"v":5.2,"lo":4.5,"hi":5.9},
{"s":"Death","t":3,"v":5.9,"lo":5.15,"hi":6.65},
{"s":"Death","t":3.5,"v":6.2,"lo":5.4,"hi":7.0},
{"s":"Death","t":4,"v":6.7,"lo":5.85,"hi":7.55},
{"s":"Death","t":4.5,"v":7.2,"lo":6.3,"hi":8.1},
{"s":"Death","t":5,"v":7.6,"lo":6.65,"hi":8.55},
{"s":"Death","t":5.5,"v":8.2,"lo":7.2,"hi":9.2},
{"s":"Death","t":6,"v":8.9,"lo":7.85,"hi":9.95},
{"s":"Death","t":6.5,"v":9.2,"lo":8.1,"hi":10.3},
{"s":"Death","t":7,"v":9.4,"lo":8.3,"hi":10.5},
{"s":"Death","t":7.5,"v":9.8,"lo":8.65,"hi":10.95},
{"s":"Death","t":8,"v":10.3,"lo":9.1,"hi":11.5},
{"s":"Death","t":8.5,"v":10.6,"lo":9.35,"hi":11.85},
{"s":"Death","t":9,"v":10.8,"lo":9.5,"hi":12.1},
{"s":"Death","t":10,"v":10.8,"lo":9.5,"hi":12.4},
{"s":"Death","t":10.35,"v":10.8,"lo":9.6,"hi":12.6},
{"s":"Death","t":10.36,"v":11.6,"lo":9.7,"hi":14.1},
{"s":"Death","t":12.69,"v":11.6,"lo":9.7,"hi":14.1}
],
"cA": [
{"s":"Chronic Kidney Disease","t":10,"v":19.6,"label":"19.6"},
{"s":"Coronary Artery Disease","t":10,"v":18.2,"label":"18.2"},
{"s":"Stroke","t":10,"v":7.4,"label":"7.4"},
{"s":"Death","t":10,"v":1.7,"label":"1.7"}
],
"cB": [
{"s":"Coronary Artery Disease","t":10,"v":28.0,"label":"28.0"},
{"s":"Stroke","t":10,"v":13.3,"label":"13.3"},
{"s":"Death","t":10,"v":7.5,"label":"7.5"}
],
"cC": [
{"s":"Chronic Kidney Disease","t":10,"v":28.7,"label":"28.7"},
{"s":"Stroke","t":10,"v":12.1,"label":"12.1"},
{"s":"Death","t":10,"v":9.0,"label":"9.0"}
],
"cD": [
{"s":"Chronic Kidney Disease","t":10,"v":26.6,"label":"26.6"},
{"s":"Coronary Artery Disease","t":10,"v":27.0,"label":"27.0"},
{"s":"Death","t":10,"v":10.8,"label":"10.8"}
],
"grid": [{"t":2},{"t":5},{"t":7},{"t":10}]
},
"concat": [
{
 "width": 545, "height": 354,
 "title": {"text": "A", "anchor": "start", "frame": "group", "dx": -60, "dy": 31, "font": "Liberation Sans", "fontSize": 24, "fontWeight": "bold", "color": "#000000"},
 "data": {"name": "A"},
 "layer": [
  {"data": {"name": "grid"}, "mark": {"type": "rule", "color": "#a0a0a0", "strokeWidth": 1.2, "strokeDash": [1.3, 2.1]},
   "encoding": {"x": {"field": "t", "type": "quantitative", "scale": {"domain": [-0.63, 13.68], "nice": false, "zero": false}, "axis": {"orient": "top", "title": "From Uncomplicated Hypertension", "labels": false, "ticks": false, "domain": false, "grid": false, "titleFontSize": 19.5, "titlePadding": 6}}}},
  {"mark": {"type": "area", "opacity": 0.4},
   "encoding": {"x": {"field": "t", "type": "quantitative", "scale": {"domain": [-0.63, 13.68], "nice": false, "zero": false}, "axis": null},
    "y": {"field": "lo", "type": "quantitative", "stack": null, "scale": {"domain": [-1.25, 50], "nice": false, "zero": false}}, "y2": {"field": "hi"},
    "fill": {"field": "s", "type": "nominal", "scale": {"domain": ["Death","Stroke","Coronary Artery Disease","Chronic Kidney Disease"], "range": ["#FF0000","#FFA500","#800080","#008000"]}, "legend": null}}},
  {"mark": {"type": "line", "strokeWidth": 2.5, "opacity": 0.8},
   "encoding": {"x": {"field": "t", "type": "quantitative", "scale": {"domain": [-0.63, 13.68], "nice": false, "zero": false}, "axis": {"orient": "bottom", "title": "Time (years)", "values": [0,1,2,3,4,5,6,7,8,9,10,11,12,13], "grid": false, "titlePadding": 5.5, "labelFlush": false, "labelOverlap": false}},
    "y": {"field": "v", "type": "quantitative", "scale": {"domain": [-1.25, 50], "nice": false, "zero": false}, "axis": {"title": "Probablity", "values": [0,10,20,30,40,50], "grid": true, "titlePadding": 4, "labelFlush": false}},
    "color": {"field": "s", "type": "nominal", "scale": {"domain": ["Chronic Kidney Disease","Coronary Artery Disease","Stroke","Death"], "range": ["#008000","#800080","#FFA500","#FF0000"]},
     "legend": {"title": null, "orient": "top-left", "offset": 8, "symbolType": "M-2.5,0H2.5", "symbolSize": 185, "symbolStrokeWidth": 2.5, "symbolOffset": 9, "labelOffset": 21, "labelFont": "DejaVu Sans", "labelFontSize": 16, "labelColor": "#000000", "labelLimit": 400, "padding": 5, "rowPadding": 6.7, "strokeColor": "#cccccc", "fillColor": "rgba(255,255,255,0.8)", "cornerRadius": 3}}}},
  {"data": {"name": "cA"}, "mark": {"type": "point", "shape": "circle", "filled": true, "size": 80, "opacity": 1},
   "encoding": {"x": {"field": "t", "type": "quantitative", "scale": {"domain": [-0.63, 13.68], "nice": false, "zero": false}, "axis": null}, "y": {"field": "v", "type": "quantitative", "scale": {"domain": [-1.25, 50], "nice": false, "zero": false}}, "fill": {"field": "s", "type": "nominal", "legend": null}}},
  {"data": {"name": "cA"}, "transform": [{"filter": "length(datum.label) == 4 && datum.s != 'Coronary Artery Disease'"}],
   "mark": {"type": "point", "shape": "M8.5,-3L25,-19.5L25,-14L60,-14L60,8L25,8L25,13.5Z", "size": 4, "filled": false, "fill": "white", "strokeWidth": 1.6, "opacity": 1},
   "encoding": {"x": {"field": "t", "type": "quantitative", "scale": {"domain": [-0.63, 13.68], "nice": false, "zero": false}, "axis": null}, "y": {"field": "v", "type": "quantitative", "scale": {"domain": [-1.25, 50], "nice": false, "zero": false}}, "stroke": {"field": "s", "type": "nominal", "scale": {"domain": ["Death","Stroke","Coronary Artery Disease","Chronic Kidney Disease"], "range": ["#FF0000","#FFA500","#800080","#008000"]}, "legend": null}}},
  {"data": {"name": "cA"}, "transform": [{"filter": "length(datum.label) == 3"}],
   "mark": {"type": "point", "shape": "M8.5,-3L25,-19.5L25,-14L50,-14L50,8L25,8L25,13.5Z", "size": 4, "filled": false, "fill": "white", "strokeWidth": 1.6, "opacity": 1},
   "encoding": {"x": {"field": "t", "type": "quantitative", "scale": {"domain": [-0.63, 13.68], "nice": false, "zero": false}, "axis": null}, "y": {"field": "v", "type": "quantitative", "scale": {"domain": [-1.25, 50], "nice": false, "zero": false}}, "stroke": {"field": "s", "type": "nominal", "legend": null}}},
  {"data": {"name": "cA"}, "transform": [{"filter": "datum.s == 'Coronary Artery Disease'"}],
   "mark": {"type": "point", "shape": "M-8.5,-3L-25,-19.5L-25,-14L-60,-14L-60,8L-25,8L-25,13.5Z", "size": 4, "filled": false, "fill": "white", "strokeWidth": 1.6, "opacity": 1},
   "encoding": {"x": {"field": "t", "type": "quantitative", "scale": {"domain": [-0.63, 13.68], "nice": false, "zero": false}, "axis": null}, "y": {"field": "v", "type": "quantitative", "scale": {"domain": [-1.25, 50], "nice": false, "zero": false}}, "stroke": {"field": "s", "type": "nominal", "legend": null}}},
  {"data": {"name": "cA"}, "transform": [{"filter": "datum.s != 'Coronary Artery Disease'"}],
   "mark": {"type": "text", "align": "left", "baseline": "middle", "dx": 20, "dy": -3, "font": "DejaVu Sans", "fontSize": 16, "color": "#000000"},
   "encoding": {"x": {"field": "t", "type": "quantitative", "scale": {"domain": [-0.63, 13.68], "nice": false, "zero": false}, "axis": null}, "y": {"field": "v", "type": "quantitative", "scale": {"domain": [-1.25, 50], "nice": false, "zero": false}}, "text": {"field": "label"}}},
  {"data": {"name": "cA"}, "transform": [{"filter": "datum.s == 'Coronary Artery Disease'"}],
   "mark": {"type": "text", "align": "right", "baseline": "middle", "dx": -20, "dy": -3, "font": "DejaVu Sans", "fontSize": 16, "color": "#000000"},
   "encoding": {"x": {"field": "t", "type": "quantitative", "scale": {"domain": [-0.63, 13.68], "nice": false, "zero": false}, "axis": null}, "y": {"field": "v", "type": "quantitative", "scale": {"domain": [-1.25, 50], "nice": false, "zero": false}}, "text": {"field": "label"}}}
 ]
},
{
 "width": 545, "height": 354,
 "title": {"text": "B", "anchor": "start", "frame": "group", "dx": -72.6, "dy": 31, "font": "Liberation Sans", "fontSize": 24, "fontWeight": "bold", "color": "#000000"},
 "data": {"name": "B"},
 "layer": [
  {"data": {"name": "grid"}, "mark": {"type": "rule", "color": "#a0a0a0", "strokeWidth": 1.2, "strokeDash": [1.3, 2.1]},
   "encoding": {"x": {"field": "t", "type": "quantitative", "scale": {"domain": [-0.644, 13.52], "nice": false, "zero": false}, "axis": {"orient": "top", "title": "From Chronic Kidney Disease", "labels": false, "ticks": false, "domain": false, "grid": false, "titleFontSize": 19.5, "titlePadding": 6}}}},
  {"mark": {"type": "area", "opacity": 0.4},
   "encoding": {"x": {"field": "t", "type": "quantitative", "scale": {"domain": [-0.644, 13.52], "nice": false, "zero": false}, "axis": null},
    "y": {"field": "lo", "type": "quantitative", "stack": null, "scale": {"domain": [-1.65, 50], "nice": false, "zero": false}}, "y2": {"field": "hi"},
    "fill": {"field": "s", "type": "nominal", "scale": {"domain": ["Death","Stroke","Coronary Artery Disease"], "range": ["#FF0000","#FFA500","#800080"]}, "legend": null}}},
  {"mark": {"type": "line", "strokeWidth": 2.5, "opacity": 0.8},
   "encoding": {"x": {"field": "t", "type": "quantitative", "scale": {"domain": [-0.644, 13.52], "nice": false, "zero": false}, "axis": {"orient": "bottom", "title": "Time (years)", "values": [0,1,2,3,4,5,6,7,8,9,10,11,12,13], "grid": false, "titlePadding": 5.5, "labelFlush": false, "labelOverlap": false}},
    "y": {"field": "v", "type": "quantitative", "scale": {"domain": [-1.65, 50], "nice": false, "zero": false}, "axis": {"title": "Probablity", "values": [0,10,20,30,40,50], "grid": true, "titlePadding": 4, "labelFlush": false}},
    "color": {"field": "s", "type": "nominal", "scale": {"domain": ["Coronary Artery Disease","Stroke","Death"], "range": ["#800080","#FFA500","#FF0000"]},
     "legend": {"title": null, "orient": "top-left", "offset": 8, "symbolType": "M-2.5,0H2.5", "symbolSize": 185, "symbolStrokeWidth": 2.5, "symbolOffset": 9, "labelOffset": 21, "labelFont": "DejaVu Sans", "labelFontSize": 16, "labelColor": "#000000", "labelLimit": 400, "padding": 5, "rowPadding": 6.7, "strokeColor": "#cccccc", "fillColor": "rgba(255,255,255,0.8)", "cornerRadius": 3}}}},
  {"data": {"name": "cB"}, "mark": {"type": "point", "shape": "circle", "filled": true, "size": 80, "opacity": 1},
   "encoding": {"x": {"field": "t", "type": "quantitative", "scale": {"domain": [-0.644, 13.52], "nice": false, "zero": false}, "axis": null}, "y": {"field": "v", "type": "quantitative", "scale": {"domain": [-1.65, 50], "nice": false, "zero": false}}, "fill": {"field": "s", "type": "nominal", "legend": null}}},
  {"data": {"name": "cB"}, "transform": [{"filter": "length(datum.label) == 4"}],
   "mark": {"type": "point", "shape": "M8.5,-3L25,-19.5L25,-14L60,-14L60,8L25,8L25,13.5Z", "size": 4, "filled": false, "fill": "white", "strokeWidth": 1.6, "opacity": 1},
   "encoding": {"x": {"field": "t", "type": "quantitative", "scale": {"domain": [-0.644, 13.52], "nice": false, "zero": false}, "axis": null}, "y": {"field": "v", "type": "quantitative", "scale": {"domain": [-1.65, 50], "nice": false, "zero": false}}, "stroke": {"field": "s", "type": "nominal", "scale": {"domain": ["Death","Stroke","Coronary Artery Disease"], "range": ["#FF0000","#FFA500","#800080"]}, "legend": null}}},
  {"data": {"name": "cB"}, "transform": [{"filter": "length(datum.label) == 3"}],
   "mark": {"type": "point", "shape": "M8.5,-3L25,-19.5L25,-14L50,-14L50,8L25,8L25,13.5Z", "size": 4, "filled": false, "fill": "white", "strokeWidth": 1.6, "opacity": 1},
   "encoding": {"x": {"field": "t", "type": "quantitative", "scale": {"domain": [-0.644, 13.52], "nice": false, "zero": false}, "axis": null}, "y": {"field": "v", "type": "quantitative", "scale": {"domain": [-1.65, 50], "nice": false, "zero": false}}, "stroke": {"field": "s", "type": "nominal", "legend": null}}},
  {"data": {"name": "cB"},
   "mark": {"type": "text", "align": "left", "baseline": "middle", "dx": 20, "dy": -3, "font": "DejaVu Sans", "fontSize": 16, "color": "#000000"},
   "encoding": {"x": {"field": "t", "type": "quantitative", "scale": {"domain": [-0.644, 13.52], "nice": false, "zero": false}, "axis": null}, "y": {"field": "v", "type": "quantitative", "scale": {"domain": [-1.65, 50], "nice": false, "zero": false}}, "text": {"field": "label"}}}
 ]
},
{
 "width": 545, "height": 354,
 "title": {"text": "C", "anchor": "start", "frame": "group", "dx": -60.6, "dy": 31, "font": "Liberation Sans", "fontSize": 24, "fontWeight": "bold", "color": "#000000"},
 "data": {"name": "C"},
 "layer": [
  {"data": {"name": "grid"}, "mark": {"type": "rule", "color": "#a0a0a0", "strokeWidth": 1.2, "strokeDash": [1.3, 2.1]},
   "encoding": {"x": {"field": "t", "type": "quantitative", "scale": {"domain": [-0.646, 13.53], "nice": false, "zero": false}, "axis": {"orient": "top", "title": "From Coronary Artery Disease", "labels": false, "ticks": false, "domain": false, "grid": false, "titleFontSize": 19.5, "titlePadding": 6}}}},
  {"mark": {"type": "area", "opacity": 0.4},
   "encoding": {"x": {"field": "t", "type": "quantitative", "scale": {"domain": [-0.646, 13.53], "nice": false, "zero": false}, "axis": null},
    "y": {"field": "lo", "type": "quantitative", "stack": null, "scale": {"domain": [-1.7, 50], "nice": false, "zero": false}}, "y2": {"field": "hi"},
    "fill": {"field": "s", "type": "nominal", "scale": {"domain": ["Death","Stroke","Chronic Kidney Disease"], "range": ["#FF0000","#FFA500","#008000"]}, "legend": null}}},
  {"mark": {"type": "line", "strokeWidth": 2.5, "opacity": 0.8},
   "encoding": {"x": {"field": "t", "type": "quantitative", "scale": {"domain": [-0.646, 13.53], "nice": false, "zero": false}, "axis": {"orient": "bottom", "title": "Time (years)", "values": [0,1,2,3,4,5,6,7,8,9,10,11,12,13], "grid": false, "titlePadding": 5.5, "labelFlush": false, "labelOverlap": false}},
    "y": {"field": "v", "type": "quantitative", "scale": {"domain": [-1.7, 50], "nice": false, "zero": false}, "axis": {"title": "Probablity", "values": [0,10,20,30,40,50], "grid": true, "titlePadding": 4, "labelFlush": false}},
    "color": {"field": "s", "type": "nominal", "scale": {"domain": ["Chronic Kidney Disease","Stroke","Death"], "range": ["#008000","#FFA500","#FF0000"]},
     "legend": {"title": null, "orient": "top-left", "offset": 8, "symbolType": "M-2.5,0H2.5", "symbolSize": 185, "symbolStrokeWidth": 2.5, "symbolOffset": 9, "labelOffset": 21, "labelFont": "DejaVu Sans", "labelFontSize": 16, "labelColor": "#000000", "labelLimit": 400, "padding": 5, "rowPadding": 6.7, "strokeColor": "#cccccc", "fillColor": "rgba(255,255,255,0.8)", "cornerRadius": 3}}}},
  {"data": {"name": "cC"}, "mark": {"type": "point", "shape": "circle", "filled": true, "size": 80, "opacity": 1},
   "encoding": {"x": {"field": "t", "type": "quantitative", "scale": {"domain": [-0.646, 13.53], "nice": false, "zero": false}, "axis": null}, "y": {"field": "v", "type": "quantitative", "scale": {"domain": [-1.7, 50], "nice": false, "zero": false}}, "fill": {"field": "s", "type": "nominal", "legend": null}}},
  {"data": {"name": "cC"}, "transform": [{"filter": "length(datum.label) == 4"}],
   "mark": {"type": "point", "shape": "M8.5,-3L25,-19.5L25,-14L60,-14L60,8L25,8L25,13.5Z", "size": 4, "filled": false, "fill": "white", "strokeWidth": 1.6, "opacity": 1},
   "encoding": {"x": {"field": "t", "type": "quantitative", "scale": {"domain": [-0.646, 13.53], "nice": false, "zero": false}, "axis": null}, "y": {"field": "v", "type": "quantitative", "scale": {"domain": [-1.7, 50], "nice": false, "zero": false}}, "stroke": {"field": "s", "type": "nominal", "scale": {"domain": ["Death","Stroke","Chronic Kidney Disease"], "range": ["#FF0000","#FFA500","#008000"]}, "legend": null}}},
  {"data": {"name": "cC"}, "transform": [{"filter": "length(datum.label) == 3"}],
   "mark": {"type": "point", "shape": "M8.5,-3L25,-19.5L25,-14L50,-14L50,8L25,8L25,13.5Z", "size": 4, "filled": false, "fill": "white", "strokeWidth": 1.6, "opacity": 1},
   "encoding": {"x": {"field": "t", "type": "quantitative", "scale": {"domain": [-0.646, 13.53], "nice": false, "zero": false}, "axis": null}, "y": {"field": "v", "type": "quantitative", "scale": {"domain": [-1.7, 50], "nice": false, "zero": false}}, "stroke": {"field": "s", "type": "nominal", "legend": null}}},
  {"data": {"name": "cC"},
   "mark": {"type": "text", "align": "left", "baseline": "middle", "dx": 20, "dy": -3, "font": "DejaVu Sans", "fontSize": 16, "color": "#000000"},
   "encoding": {"x": {"field": "t", "type": "quantitative", "scale": {"domain": [-0.646, 13.53], "nice": false, "zero": false}, "axis": null}, "y": {"field": "v", "type": "quantitative", "scale": {"domain": [-1.7, 50], "nice": false, "zero": false}}, "text": {"field": "label"}}}
 ]
},
{
 "width": 545, "height": 354,
 "title": {"text": "D", "anchor": "start", "frame": "group", "dx": -70.7, "dy": 31, "font": "Liberation Sans", "fontSize": 24, "fontWeight": "bold", "color": "#000000"},
 "data": {"name": "D"},
 "layer": [
  {"data": {"name": "grid"}, "mark": {"type": "rule", "color": "#a0a0a0", "strokeWidth": 1.2, "strokeDash": [1.3, 2.1]},
   "encoding": {"x": {"field": "t", "type": "quantitative", "scale": {"domain": [-0.635, 13.33], "nice": false, "zero": false}, "axis": {"orient": "top", "title": "From Stroke", "labels": false, "ticks": false, "domain": false, "grid": false, "titleFontSize": 19.5, "titlePadding": 6}}}},
  {"mark": {"type": "area", "opacity": 0.4},
   "encoding": {"x": {"field": "t", "type": "quantitative", "scale": {"domain": [-0.635, 13.33], "nice": false, "zero": false}, "axis": null},
    "y": {"field": "lo", "type": "quantitative", "stack": null, "scale": {"domain": [-2.0, 50], "nice": false, "zero": false}}, "y2": {"field": "hi"},
    "fill": {"field": "s", "type": "nominal", "scale": {"domain": ["Death","Coronary Artery Disease","Chronic Kidney Disease"], "range": ["#FF0000","#800080","#008000"]}, "legend": null}}},
  {"mark": {"type": "line", "strokeWidth": 2.5, "opacity": 0.8},
   "encoding": {"x": {"field": "t", "type": "quantitative", "scale": {"domain": [-0.635, 13.33], "nice": false, "zero": false}, "axis": {"orient": "bottom", "title": "Time (years)", "values": [0,1,2,3,4,5,6,7,8,9,10,11,12,13], "grid": false, "titlePadding": 5.5, "labelFlush": false, "labelOverlap": false}},
    "y": {"field": "v", "type": "quantitative", "scale": {"domain": [-2.0, 50], "nice": false, "zero": false}, "axis": {"title": "Probablity", "values": [0,10,20,30,40,50], "grid": true, "titlePadding": 4, "labelFlush": false}},
    "color": {"field": "s", "type": "nominal", "scale": {"domain": ["Chronic Kidney Disease","Coronary Artery Disease","Death"], "range": ["#008000","#800080","#FF0000"]},
     "legend": {"title": null, "orient": "top-left", "offset": 8, "symbolType": "M-2.5,0H2.5", "symbolSize": 185, "symbolStrokeWidth": 2.5, "symbolOffset": 9, "labelOffset": 21, "labelFont": "DejaVu Sans", "labelFontSize": 16, "labelColor": "#000000", "labelLimit": 400, "padding": 5, "rowPadding": 6.7, "strokeColor": "#cccccc", "fillColor": "rgba(255,255,255,0.8)", "cornerRadius": 3}}}},
  {"data": {"name": "cD"}, "mark": {"type": "point", "shape": "circle", "filled": true, "size": 80, "opacity": 1},
   "encoding": {"x": {"field": "t", "type": "quantitative", "scale": {"domain": [-0.635, 13.33], "nice": false, "zero": false}, "axis": null}, "y": {"field": "v", "type": "quantitative", "scale": {"domain": [-2.0, 50], "nice": false, "zero": false}}, "fill": {"field": "s", "type": "nominal", "legend": null}}},
  {"data": {"name": "cD"}, "transform": [{"filter": "datum.s != 'Chronic Kidney Disease'"}],
   "mark": {"type": "point", "shape": "M8.5,-3L25,-19.5L25,-14L60,-14L60,8L25,8L25,13.5Z", "size": 4, "filled": false, "fill": "white", "strokeWidth": 1.6, "opacity": 1},
   "encoding": {"x": {"field": "t", "type": "quantitative", "scale": {"domain": [-0.635, 13.33], "nice": false, "zero": false}, "axis": null}, "y": {"field": "v", "type": "quantitative", "scale": {"domain": [-2.0, 50], "nice": false, "zero": false}}, "stroke": {"field": "s", "type": "nominal", "scale": {"domain": ["Death","Coronary Artery Disease","Chronic Kidney Disease"], "range": ["#FF0000","#800080","#008000"]}, "legend": null}}},
  {"data": {"name": "cD"}, "transform": [{"filter": "datum.s == 'Chronic Kidney Disease'"}],
   "mark": {"type": "point", "shape": "M-8.5,-3L-25,-19.5L-25,-14L-60,-14L-60,8L-25,8L-25,13.5Z", "size": 4, "filled": false, "fill": "white", "strokeWidth": 1.6, "opacity": 1},
   "encoding": {"x": {"field": "t", "type": "quantitative", "scale": {"domain": [-0.635, 13.33], "nice": false, "zero": false}, "axis": null}, "y": {"field": "v", "type": "quantitative", "scale": {"domain": [-2.0, 50], "nice": false, "zero": false}}, "stroke": {"field": "s", "type": "nominal", "legend": null}}},
  {"data": {"name": "cD"}, "transform": [{"filter": "datum.s != 'Chronic Kidney Disease'"}],
   "mark": {"type": "text", "align": "left", "baseline": "middle", "dx": 20, "dy": -3, "font": "DejaVu Sans", "fontSize": 16, "color": "#000000"},
   "encoding": {"x": {"field": "t", "type": "quantitative", "scale": {"domain": [-0.635, 13.33], "nice": false, "zero": false}, "axis": null}, "y": {"field": "v", "type": "quantitative", "scale": {"domain": [-2.0, 50], "nice": false, "zero": false}}, "text": {"field": "label"}}},
  {"data": {"name": "cD"}, "transform": [{"filter": "datum.s == 'Chronic Kidney Disease'"}],
   "mark": {"type": "text", "align": "right", "baseline": "middle", "dx": -20, "dy": -3, "font": "DejaVu Sans", "fontSize": 16, "color": "#000000"},
   "encoding": {"x": {"field": "t", "type": "quantitative", "scale": {"domain": [-0.635, 13.33], "nice": false, "zero": false}, "axis": null}, "y": {"field": "v", "type": "quantitative", "scale": {"domain": [-2.0, 50], "nice": false, "zero": false}}, "text": {"field": "label"}}}
 ]
}
]
}
